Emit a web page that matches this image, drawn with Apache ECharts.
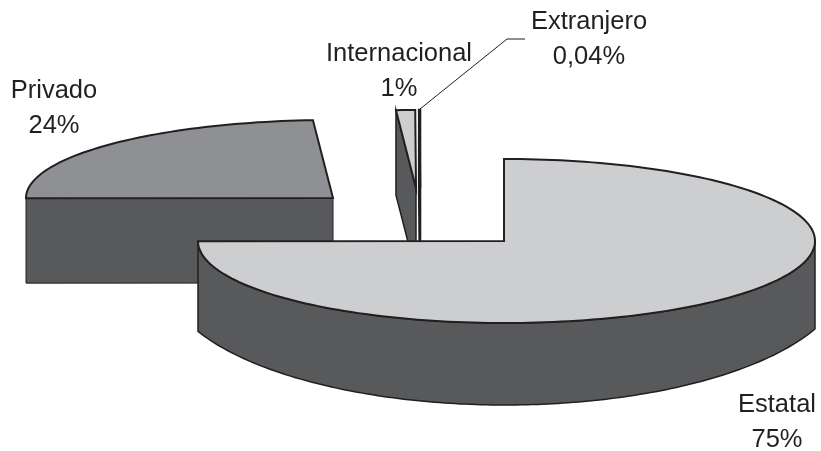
<!DOCTYPE html>
<html>
<head>
<meta charset="utf-8">
<style>html,body{margin:0;padding:0;background:#fff}#c{width:821px;height:451px}</style>
<script src="https://cdn.jsdelivr.net/npm/echarts@6/dist/echarts.min.js"></script>
</head>
<body>
<div id="c"></div>
<script>
var categories = ['Estatal', 'Privado', 'Internacional', 'Extranjero'];
var shares = [75, 24, 1, 0.04];
var shareLabels = ['75%', '24%', '1%', '0,04%'];

var drawOrder = [1, 2, 3, 0];
var layout = [
  {cx: 504, cy: 241, rxL: 306, rxR: 311, ry: 82, depth: 91, top: '#cdced0', side: '#58595b', sideW: 1.5, topW: 2,
   floor: {cx: 505, cy: 276, rx: 340, ry: 129}, lx: 777, ly: 405},
  {cx: 333, cy: 198, rxL: 307, rxR: 307, ry: 78, depth: 85, top: '#8f9093', side: '#58595b', sideW: 1, topW: 2, lx: 54, ly: 91},
  {cx: 416, cy: 188, rxL: 307, rxR: 307, ry: 78, depth: 85, top: '#cdced0', side: '#58595b', sideW: 1.5, topW: 2, lx: 399, ly: 54},
  {cx: 420, cy: 188, rxL: 307, rxR: 307, ry: 78, depth: 85, top: '#cdced0', side: '#58595b', sideW: 2.6, topW: 2.6, lx: 589, ly: 22}
];
var ink = '#231f20';
var total = shares.reduce(function (a, b) { return a + b; }, 0);
var starts = [], acc = 0;
shares.forEach(function (v) { starts.push(acc / total * 360); acc += v; });

function pt(L, deg) {
  var t = deg * Math.PI / 180, s = Math.sin(t);
  return [L.cx + (s > 0 ? L.rxR : L.rxL) * s, L.cy - L.ry * Math.cos(t)];
}
function arc(L, a, b) {
  var out = [], n = Math.max(2, Math.ceil(Math.abs(b - a) / 1.5));
  for (var i = 0; i <= n; i++) out.push(pt(L, a + (b - a) * i / n));
  return out;
}
// lower edge of the rim, cut off by the vertical edges at xLeft / xRight
function floorArc(L, xLeft, xRight) {
  var F = L.floor, out = [], n = 120;
  for (var i = 0; i <= n; i++) {
    var x = xLeft + (xRight - xLeft) * i / n, u = (x - F.cx) / F.rx;
    out.push([x, F.cy + F.ry * Math.sqrt(1 - u * u)]);
  }
  return out;
}
function poly(points, fill, w) {
  return {type: 'polygon', shape: {points: points},
    style: {fill: fill, stroke: ink, lineWidth: w, lineJoin: 'miter'}};
}
function label(x, y, t) {
  return {type: 'text', style: {x: x, y: y, text: t, fill: ink, align: 'center', verticalAlign: 'middle',
    font: '25.5px "Liberation Sans", Arial, sans-serif'}};
}
function renderItem(params, api) {
  var i = drawOrder[params.dataIndex];
  var L = layout[i];
  var a = starts[i], b = a + shares[i] / total * 360;
  var kids = [];
  var c0 = [L.cx, L.cy], c1 = [L.cx, L.cy + L.depth];
  if (a >= 180) {
    var p = pt(L, a);
    kids.push(poly([c0, p, [p[0], p[1] + L.depth], c1], L.side, L.sideW));
  }
  if (L.floor) {
    var top = arc(L, 90, b);
    var right = top[0], left = top[top.length - 1];
    kids.push(poly(top.concat(floorArc(L, left[0], right[0])), L.side, L.sideW));
  }
  kids.push(poly([c0].concat(arc(L, a, b)), L.top, L.topW));
  kids.push(label(L.lx, L.ly, categories[i]));
  kids.push(label(L.lx, L.ly + 35, shareLabels[i]));
  if (i === 3) {
    kids.push({type: 'polyline', shape: {points: [[420, 109], [507, 39], [525, 39]]},
      style: {fill: 'none', stroke: ink, lineWidth: 1}});
  }
  return {type: 'group', children: kids};
}
var chart = echarts.init(document.getElementById('c'));
chart.setOption({
  animation: false,
  backgroundColor: '#ffffff',
  series: [{
    type: 'custom',
    coordinateSystem: 'none',
    renderItem: renderItem,
    data: drawOrder.map(function (i) { return {name: categories[i], value: shares[i]}; })
  }]
});
</script>
</body>
</html>
